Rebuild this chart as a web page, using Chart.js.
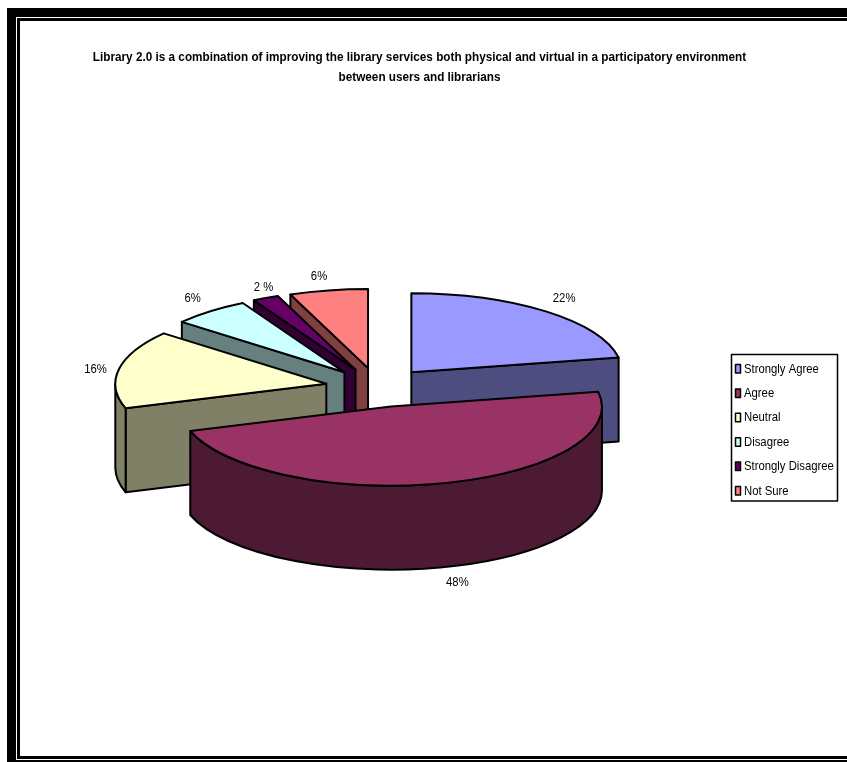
<!DOCTYPE html>
<html>
<head>
<meta charset="utf-8">
<script src="https://cdn.jsdelivr.net/npm/chart.js@4"></script>
<style>
html, body { margin: 0; padding: 0; background: #fff; overflow: hidden; }
#page { position: relative; width: 847px; height: 762px; }
.rule { position: absolute; background: #000; }
canvas { position: absolute; left: 0; top: 0; }
</style>
</head>
<body>
<div id="page">
	<div class="rule" style="left:7px;top:8px;width:840px;height:9px"></div>
	<div class="rule" style="left:17px;top:18px;width:830px;height:3px"></div>
	<div class="rule" style="left:7px;top:8px;width:9px;height:754px"></div>
	<div class="rule" style="left:17px;top:18px;width:3px;height:741px"></div>
	<div class="rule" style="left:17px;top:756px;width:830px;height:3px"></div>
	<div class="rule" style="left:7px;top:760px;width:840px;height:2px"></div>
	<canvas id="pie" width="839" height="762"></canvas>
</div>
<script>
const categories = ['Strongly Agree', 'Agree', 'Neutral', 'Disagree', 'Strongly Disagree', 'Not Sure'];
const shares = [22, 48, 16, 6, 2, 6];
const shareLabels = ['22%', '48%', '16%', '6%', '2 %', '6%'];
const topColors = ['#9999ff', '#993366', '#ffffcc', '#ccffff', '#660066', '#ff8080'];
const wallColors = ['#4d4d80', '#4d1a33', '#808066', '#668080', '#330033', '#804040'];

const SQUASH = 0.375;
const DEPTH = 84;
const EXPLODE = 52.5;
const FONT_STACK = '"Liberation Sans", Arial, sans-serif';
const LABEL_FONT = '13px ' + FONT_STACK;
const TEXT_CONDENSE = 0.87;

// small hand nudges so the percent labels sit where the original has them
const labelNudge = [[3, -1], [8, 0], [0, 3], [-2, -1], [8, 4], [-5, 2]];

function sliceGeometry(arc) {
	const p = arc.getProps(['x', 'y', 'startAngle', 'endAngle', 'outerRadius']);
	const mid = (p.startAngle + p.endAngle) / 2;
	return {
		a0: p.startAngle,
		a1: p.endAngle,
		mid: mid,
		r: p.outerRadius,
		cx: p.x,
		cy: p.y,
		x: p.x + Math.cos(mid) * EXPLODE,
		y: p.y + Math.sin(mid) * EXPLODE * SQUASH
	};
}

function outline(ctx) {
	ctx.lineWidth = 2;
	ctx.lineJoin = 'round';
	ctx.strokeStyle = '#000';
	ctx.stroke();
}

function drawRadialWall(ctx, g, angle, color) {
	const ex = g.x + Math.cos(angle) * g.r;
	const ey = g.y + Math.sin(angle) * g.r * SQUASH;
	ctx.beginPath();
	ctx.moveTo(g.x, g.y);
	ctx.lineTo(ex, ey);
	ctx.lineTo(ex, ey + DEPTH);
	ctx.lineTo(g.x, g.y + DEPTH);
	ctx.closePath();
	ctx.fillStyle = color;
	ctx.fill();
	outline(ctx);
}

function drawRim(ctx, g, color) {
	// only the part of the rim on the near half of the ellipse shows
	for (let k = -1; k <= 1; k++) {
		const from = Math.max(g.a0, k * 2 * Math.PI);
		const to = Math.min(g.a1, k * 2 * Math.PI + Math.PI);
		if (to <= from) continue;
		ctx.beginPath();
		ctx.ellipse(g.x, g.y, g.r, g.r * SQUASH, 0, from, to);
		ctx.ellipse(g.x, g.y + DEPTH, g.r, g.r * SQUASH, 0, to, from, true);
		ctx.closePath();
		ctx.fillStyle = color;
		ctx.fill();
		outline(ctx);
	}
}

const pie3d = {
	id: 'pie3d',
	afterLayout(chart) {
		chart.legend.left = 723.1;
		chart.legend.top = 351.1;
		// title is centred on the whole canvas, not on the padded area
		chart.titleBlock.left = 0;
	},
	beforeDatasetsDraw(chart) {
		const ctx = chart.ctx;
		const arcs = chart.getDatasetMeta(0).data;
		const order = arcs.map((arc, i) => ({ arc, i, g: sliceGeometry(arc) }));
		order.sort((a, b) => a.g.y - b.g.y);

		order.forEach(({ arc, i, g }) => {
			if (Math.cos(g.a0) < 0) drawRadialWall(ctx, g, g.a0, wallColors[i]);
			if (Math.cos(g.a1) > 0) drawRadialWall(ctx, g, g.a1, wallColors[i]);
			drawRim(ctx, g, wallColors[i]);

			ctx.save();
			ctx.translate(g.x, g.y);
			ctx.scale(1, SQUASH);
			ctx.translate(-g.cx, -g.cy);
			arc.draw(ctx);
			ctx.restore();

			ctx.beginPath();
			ctx.moveTo(g.x, g.y);
			ctx.ellipse(g.x, g.y, g.r, g.r * SQUASH, 0, g.a0, g.a1);
			ctx.closePath();
			outline(ctx);
		});

		ctx.save();
		ctx.font = LABEL_FONT;
		ctx.fillStyle = '#000';
		ctx.textAlign = 'center';
		ctx.textBaseline = 'middle';
		order.forEach(({ i, g }) => {
			const c = Math.cos(g.mid), s = Math.sin(g.mid);
			const wall = s > 0.5 ? DEPTH : 0;
			const lx = g.x + c * (g.r + 24) + labelNudge[i][0];
			const ly = g.y + s * (g.r * SQUASH + 16) + wall + labelNudge[i][1];
			ctx.fillText(shareLabels[i], lx, ly);
		});
		ctx.restore();
		return false;
	},
	afterDraw(chart) {
		const ctx = chart.ctx;
		ctx.save();
		ctx.strokeStyle = '#000';
		ctx.lineWidth = 1.5;
		ctx.strokeRect(731.5, 354.5, 106, 146.5);
		categories.forEach((name, i) => {
			const y = 364.5 + i * 24.4;
			ctx.fillStyle = topColors[i];
			ctx.fillRect(735.5, y, 5, 8.5);
			ctx.strokeRect(735.5, y, 5, 8.5);
		});
		ctx.restore();
	}
};

const canvas = document.getElementById('pie');

// the original text is squeezed sideways, no narrow face is installed so do it here
const ctx2d = canvas.getContext('2d');
const plainFillText = ctx2d.fillText.bind(ctx2d);
ctx2d.fillText = function (text, x, y, maxWidth) {
	ctx2d.save();
	ctx2d.transform(TEXT_CONDENSE, 0, 0, 1, x * (1 - TEXT_CONDENSE), 0);
	if (maxWidth === undefined) plainFillText(text, x, y);
	else plainFillText(text, x, y, maxWidth);
	ctx2d.restore();
};

new Chart(canvas, {
	type: 'pie',
	data: {
		labels: categories,
		datasets: [{
			data: shares,
			backgroundColor: topColors,
			borderWidth: 0
		}]
	},
	plugins: [pie3d],
	options: {
		responsive: false,
		animation: false,
		radius: 211,
		layout: { padding: { left: 51, bottom: 84 } },
		plugins: {
			title: {
				display: true,
				text: [
					'Library 2.0 is a combination of improving the library services both physical and virtual in a participatory environment',
					'between users and librarians'
				],
				color: '#000',
				font: { family: FONT_STACK, size: 13.5, weight: 'bold', lineHeight: 1.48 },
				padding: { top: 47, bottom: 10 }
			},
			legend: {
				position: 'right',
				align: 'start',
				labels: {
					color: '#000',
					font: { family: FONT_STACK, size: 13 },
					boxWidth: 3,
					boxHeight: 8,
					padding: 11.4,
					generateLabels: () => categories.map((name, i) => ({
						text: name,
						fillStyle: 'transparent',
						strokeStyle: 'transparent',
						lineWidth: 0,
						index: i
					}))
				}
			},
			tooltip: { enabled: false }
		}
	}
});
</script>
</body>
</html>
